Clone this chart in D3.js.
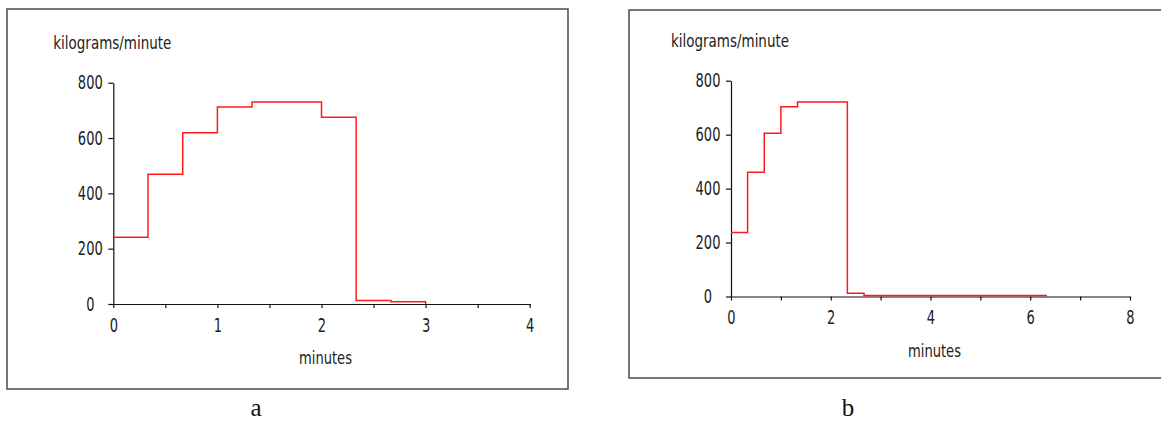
<!DOCTYPE html>
<html>
<head>
<meta charset="utf-8">
<script src="https://cdn.jsdelivr.net/npm/d3@7"></script>
<style>
  body { margin: 0; background: #fff; }
  svg { display: block; }
  .tick text, .lbl { font-family: "DejaVu Sans Condensed", "DejaVu Sans", sans-serif; font-stretch: condensed; fill: #222; }
  .cap { font-family: "Liberation Serif", serif; fill: #111; }
</style>
</head>
<body>
<script>
// chart a - discharge rate per step
var minutesA = [0, 0.333, 0.667, 1, 1.333, 2, 2.333, 2.667, 3];
var rateA    = [241, 469, 619, 712, 730, 675, 13, 8, 0];
var xTicksA  = [0, 0.5, 1, 1.5, 2, 2.5, 3, 3.5, 4];

// chart b
var minutesB = [0, 0.333, 0.667, 1, 1.333, 2.333, 2.667, 6.333];
var rateB    = [237, 461, 605, 703, 721, 12, 4, 4];
var xTicksB  = [0, 1, 2, 3, 4, 5, 6, 7, 8];

var yTicks = [0, 200, 400, 600, 800];
var yTitle = "kilograms/minute",
    xTitle = "minutes";

var width = 1161,
    height = 422;

var digitW = 8.3; // narrow digits, squeeze the text to fit

var svg = d3.select("body").append("svg")
    .attr("width", width)
    .attr("height", height);

function squeeze(sel) {
  sel.each(function() {
    var t = d3.select(this), s = t.text();
    if (s.length) t.attr("textLength", s.length * digitW).attr("lengthAdjust", "spacingAndGlyphs");
  });
}

function drawPanel(p) {
  var g = svg.append("g");

  // frame
  g.append("rect")
    .attr("x", p.frame[0]).attr("y", p.frame[1])
    .attr("width", p.frame[2]).attr("height", p.frame[3])
    .attr("fill", "none")
    .attr("stroke", "#4a4a4a")
    .attr("stroke-width", 1.5);

  var x = d3.scaleLinear().domain([0, p.xMax]).range([p.left, p.right]);
  var y = d3.scaleLinear().domain([0, 800]).range([p.bottom, p.top]);

  var xAxis = g.append("g")
    .attr("transform", "translate(0," + p.bottom + ")")
    .call(d3.axisBottom(x)
      .tickValues(p.xTicks)
      .tickSize(4)
      .tickSizeOuter(0)
      .tickPadding(10)
      .tickFormat(function(d) { return d % p.labelStep == 0 ? d : ""; }));

  var yAxis = g.append("g")
    .attr("transform", "translate(" + p.left + ",0)")
    .call(d3.axisLeft(y)
      .tickValues(yTicks)
      .tickSize(5)
      .tickSizeOuter(0)
      .tickPadding(0));

  yAxis.selectAll(".tick text")
    .attr("text-anchor", "middle")
    .attr("x", -23);

  [xAxis, yAxis].forEach(function(a) {
    a.selectAll("path, line").attr("stroke", "#111").attr("stroke-width", 1.2);
    a.selectAll("text").style("font-size", "19.5px").call(squeeze);
    a.attr("font-family", null).attr("font-size", null);
  });

  var line = d3.line()
    .x(function(d) { return x(d[0]); })
    .y(function(d) { return y(d[1]); })
    .curve(d3.curveStepAfter);

  g.append("path")
    .datum(d3.zip(p.minutes, p.rate))
    .attr("d", line)
    .attr("fill", "none")
    .attr("stroke", "#ff1a1a")
    .attr("stroke-width", 1.5);

  g.append("text")
    .attr("class", "lbl")
    .attr("x", p.left - 60)
    .attr("y", p.top - 34)
    .attr("textLength", 118)
    .attr("lengthAdjust", "spacingAndGlyphs")
    .style("font-size", "18px")
    .text(yTitle);

  g.append("text")
    .attr("class", "lbl")
    .attr("x", (p.left + p.right) / 2 + 4)
    .attr("y", p.bottom + 60)
    .attr("text-anchor", "middle")
    .attr("textLength", 53)
    .attr("lengthAdjust", "spacingAndGlyphs")
    .style("font-size", "18px")
    .text(xTitle);

  g.append("text")
    .attr("class", "cap")
    .attr("x", p.capX)
    .attr("y", 416)
    .attr("text-anchor", "middle")
    .style("font-size", "25px")
    .text(p.caption);
}

drawPanel({
  minutes: minutesA, rate: rateA, xTicks: xTicksA, xMax: 4, labelStep: 1,
  frame: [7, 9, 561, 380],
  left: 113.3, right: 529.7, top: 82.7, bottom: 304,
  capX: 256, caption: "a"
});

drawPanel({
  minutes: minutesB, rate: rateB, xTicks: xTicksB, xMax: 8, labelStep: 2,
  frame: [629, 10, 540, 368],
  left: 731, right: 1130, top: 80.7, bottom: 296.5,
  capX: 848, caption: "b"
});
</script>
</body>
</html>
